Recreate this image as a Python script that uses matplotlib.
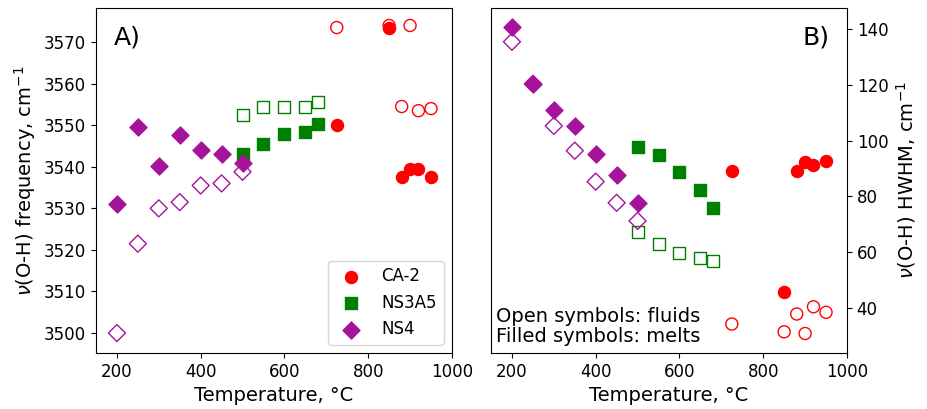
import numpy as np
import matplotlib
matplotlib.use('Agg')
from matplotlib import pyplot as plt

# CA-2
ca2_T = [725, 850, 880, 900, 920, 950]
ca2_freq_fluid = [3573.5, 3574.0, 3554.5, 3574.0, 3553.5, 3554.0]
ca2_freq_melt = [3550.0, 3573.5, 3537.5, 3539.5, 3539.5, 3537.5]
ca2_hwhm_fluid = [34.2, 31.4, 37.8, 30.8, 40.4, 38.4]
ca2_hwhm_melt = [89.2, 45.6, 89.2, 92.2, 91.3, 92.7]

# NS3A5
ns3a5_T = [500, 550, 600, 650, 680]
ns3a5_freq_fluid = [3552.5, 3554.5, 3554.5, 3554.5, 3555.5]
ns3a5_freq_melt = [3543.0, 3545.4, 3548.0, 3548.4, 3550.4]
ns3a5_hwhm_fluid = [67.3, 62.9, 59.8, 57.8, 56.8]
ns3a5_hwhm_melt = [97.6, 94.9, 88.9, 82.3, 76.0]

# NS4
ns4_T = [200, 250, 300, 350, 400, 450, 500]
ns4_freq_fluid = [3500.0, 3521.5, 3530.0, 3531.5, 3535.5, 3536.0, 3538.8]
ns4_freq_melt = [3531.0, 3549.6, 3540.1, 3547.6, 3544.0, 3543.0, 3541.0]
ns4_hwhm_fluid = [135.5, 120.4, 105.3, 96.4, 85.3, 77.7, 71.2]
ns4_hwhm_melt = [140.9, 120.4, 111.0, 105.3, 95.2, 87.7, 77.5]

series = [
    ('CA-2', 'o', 'red', ca2_T, ca2_freq_fluid, ca2_freq_melt, ca2_hwhm_fluid, ca2_hwhm_melt),
    ('NS3A5', 's', 'green', ns3a5_T, ns3a5_freq_fluid, ns3a5_freq_melt, ns3a5_hwhm_fluid, ns3a5_hwhm_melt),
    ('NS4', 'D', '#a5139b', ns4_T, ns4_freq_fluid, ns4_freq_melt, ns4_hwhm_fluid, ns4_hwhm_melt),
]

fig = plt.figure(figsize=(9.28, 4.09), dpi=100)
axA = fig.add_axes([0.1034, 0.1369, 0.3836, 0.8435])
axB = fig.add_axes([0.5291, 0.1369, 0.3836, 0.8435])

ms = 75
for name, mk, col, T, ff, fm, hf, hm in series:
    # open = fluids, filled = melts
    axA.scatter(T, ff, s=ms, marker=mk, facecolors='none', edgecolors=col, linewidths=1)
    axA.scatter(T, fm, s=ms, marker=mk, color=col, label=name)
    axB.scatter(T, hf, s=ms, marker=mk, facecolors='none', edgecolors=col, linewidths=1)
    axB.scatter(T, hm, s=ms, marker=mk, color=col)

axA.set_xlim(150, 1000)
axA.set_ylim(3495.2, 3578.2)
axA.set_xticks([200, 400, 600, 800, 1000])
axA.set_yticks(np.arange(3500, 3571, 10))
axA.set_xlabel('Temperature, °C', fontsize=14)
axA.set_ylabel(r'$\nu$(O-H) frequency, cm$^{-1}$', fontsize=14)
axA.tick_params(labelsize=12)
axA.text(0.05, 0.95, 'A)', transform=axA.transAxes, fontsize=18, va='top', ha='left')
axA.legend(loc='lower right', fontsize=12)

axB.set_xlim(150, 1000)
axB.set_ylim(23.8, 147.6)
axB.set_xticks([200, 400, 600, 800, 1000])
axB.set_yticks([40, 60, 80, 100, 120, 140])
axB.yaxis.tick_right()
axB.yaxis.set_label_position('right')
axB.set_xlabel('Temperature, °C', fontsize=14)
axB.set_ylabel(r'$\nu$(O-H) HWHM, cm$^{-1}$', fontsize=14)
axB.tick_params(labelsize=12)
axB.text(0.95, 0.95, 'B)', transform=axB.transAxes, fontsize=18, va='top', ha='right')
axB.text(0.015, 0.02, 'Open symbols: fluids\nFilled symbols: melts', transform=axB.transAxes,
         fontsize=14, va='bottom', ha='left', linespacing=1.1)

plt.savefig('out.png', dpi=100)
